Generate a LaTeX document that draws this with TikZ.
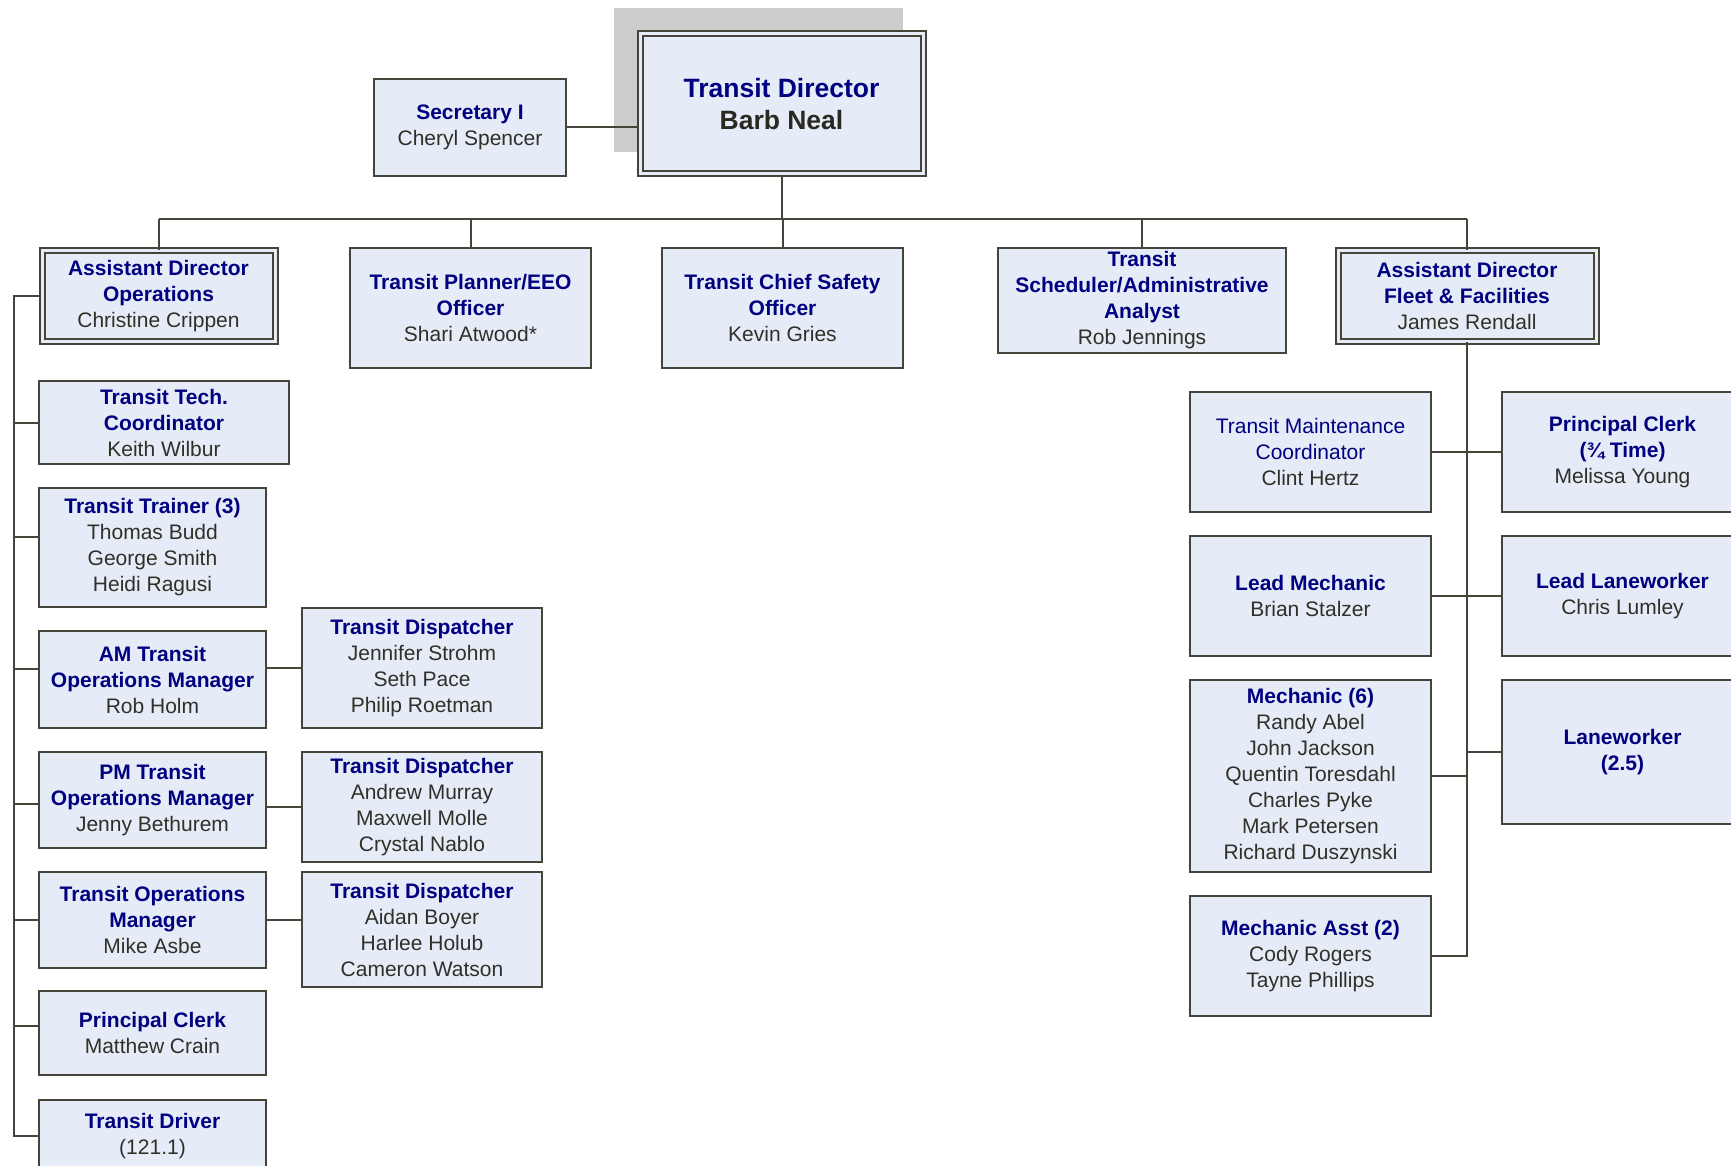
\documentclass[tikz,border=0pt]{standalone}
\usepackage{fontspec}
\setmainfont{Liberation Sans}
\definecolor{boxfill}{RGB}{230,236,247}
\definecolor{bord}{RGB}{70,68,56}
\definecolor{titlec}{RGB}{0,0,128}
\definecolor{namec}{RGB}{48,48,40}
\definecolor{shadowc}{RGB}{204,204,204}
\newcommand\ttl[1]{{\bfseries\color{titlec}#1}}
\begin{document}
\begin{tikzpicture}[x=1pt,y=-1pt,
  box/.style={draw=bord, fill=boxfill, line width=2.5pt, inner sep=0pt, align=center,
    font=\fontsize{21}{26}\selectfont, text=namec},
  dbox/.style={box, line width=2pt, double=boxfill, double distance=3pt},
  conn/.style={draw=bord, line width=2pt}]
\useasboundingbox (0,0) rectangle (1731,1166);
\clip (0,0) rectangle (1731,1166);
\fill[shadowc] (614,8) rectangle (903,152);
% top
\node[dbox, minimum width=283pt, minimum height=140pt, font=\fontsize{26.5}{32}\selectfont] (dir) at (781.5,104)
  {\ttl{Transit Director}\\{\bfseries\color{namec!85!black}Barb Neal}};
\node[box, minimum width=192pt, minimum height=97pt] (sec) at (470,127.5)
  {\ttl{Secretary I}\\Cheryl Spencer};
% second row
\node[dbox, minimum width=233pt, minimum height=90pt] (ado) at (158.5,296)
  {\ttl{Assistant Director}\\\ttl{Operations}\\Christine Crippen};
\node[box, minimum width=241pt, minimum height=120pt] (plan) at (470.5,308)
  {\ttl{Transit Planner/EEO}\\\ttl{Officer}\\Shari Atwood*};
\node[box, minimum width=241pt, minimum height=120pt] (chief) at (782.5,308)
  {\ttl{Transit Chief Safety}\\\ttl{Officer}\\Kevin Gries};
\node[box, minimum width=288pt, minimum height=105pt] (sched) at (1142,300.5)
  {\ttl{Transit}\\\ttl{Scheduler/Administrative}\\\ttl{Analyst}\\Rob Jennings};
\node[dbox, minimum width=258pt, minimum height=90pt] (adff) at (1467,296)
  {\ttl{Assistant Director}\\\ttl{Fleet \& Facilities}\\James Rendall};
% left column
\node[box, minimum width=250pt, minimum height=83pt] (tech) at (164,422.5)
  {\ttl{Transit Tech.}\\\ttl{Coordinator}\\Keith Wilbur};
\node[box, minimum width=227pt, minimum height=119pt] (trainer) at (152.5,547.5)
  {\ttl{Transit Trainer (3)}\\Thomas Budd\\George Smith\\Heidi Ragusi};
\node[box, minimum width=227pt, minimum height=97pt] (am) at (152.5,679.5)
  {\ttl{AM Transit}\\\ttl{Operations Manager}\\Rob Holm};
\node[box, minimum width=227pt, minimum height=96pt] (pm) at (152.5,800)
  {\ttl{PM Transit}\\\ttl{Operations Manager}\\Jenny Bethurem};
\node[box, minimum width=227pt, minimum height=96pt] (ops) at (152.5,920)
  {\ttl{Transit Operations}\\\ttl{Manager}\\Mike Asbe};
\node[box, minimum width=227pt, minimum height=84pt] (pcl) at (152.5,1033)
  {\ttl{Principal Clerk}\\Matthew Crain};
\node[box, minimum width=227pt, minimum height=72pt] (drv) at (152.5,1136)
  {\ttl{Transit Driver}\\(121.1)};
% dispatchers
\node[box, minimum width=240pt, minimum height=120pt] (disp1) at (422,668)
  {\ttl{Transit Dispatcher}\\Jennifer Strohm\\Seth Pace\\Philip Roetman};
\node[box, minimum width=240pt, minimum height=110pt] (disp2) at (422,807)
  {\ttl{Transit Dispatcher}\\Andrew Murray\\Maxwell Molle\\Crystal Nablo};
\node[box, minimum width=240pt, minimum height=115pt] (disp3) at (422,929.5)
  {\ttl{Transit Dispatcher}\\Aidan Boyer\\Harlee Holub\\Cameron Watson};
% right side
\node[box, minimum width=241pt, minimum height=120pt] (maint) at (1310.5,452)
  {{\color{titlec}Transit Maintenance}\\{\color{titlec}Coordinator}\\Clint Hertz};
\node[box, minimum width=241pt, minimum height=120pt] (pclr) at (1622.5,452)
  {\ttl{Principal Clerk}\\\ttl{(¾ Time)}\\Melissa Young};
\node[box, minimum width=241pt, minimum height=120pt] (lmech) at (1310.5,596)
  {\ttl{Lead Mechanic}\\Brian Stalzer};
\node[box, minimum width=241pt, minimum height=120pt] (llane) at (1622.5,596)
  {\ttl{Lead Laneworker}\\Chris Lumley};
\node[box, minimum width=241pt, minimum height=192pt] (mech) at (1310.5,776)
  {\ttl{Mechanic (6)}\\Randy Abel\\John Jackson\\Quentin Toresdahl\\Charles Pyke\\Mark Petersen\\Richard Duszynski};
\node[box, minimum width=241pt, minimum height=144pt] (lane) at (1622.5,752)
  {\ttl{Laneworker}\\\ttl{(2.5)}};
\node[box, minimum width=241pt, minimum height=120pt] (masst) at (1310.5,956)
  {\ttl{Mechanic Asst (2)}\\Cody Rogers\\Tayne Phillips};
% connectors
\coordinate (busL) at (158.5,219);
\coordinate (busR) at (1467,219);
\coordinate (lt) at (14,296);
\draw[conn] (sec.east) -- (sec.east -| dir.west);
\draw[conn] (dir.south) -- (dir.south |- busL);
\draw[conn] (busL) -- (busR);
\draw[conn] (ado.north) -- (ado.north |- busL);
\draw[conn] (plan.north) -- (plan.north |- busL);
\draw[conn] (chief.north) -- (chief.north |- busL);
\draw[conn] (sched.north) -- (sched.north |- busL);
\draw[conn] (adff.north) -- (adff.north |- busL);
% left trunk
\draw[conn] (ado.west) -- (lt) -- (lt |- drv.west) -- (drv.west);
\draw[conn] (tech.west) -- (tech.west -| lt);
\draw[conn] ([yshift=10.5pt]trainer.west) -- ([yshift=10.5pt]trainer.west -| lt);
\draw[conn] ([yshift=10.5pt]am.west) -- ([yshift=10.5pt]am.west -| lt);
\draw[conn] ([yshift=-4pt]pm.west) -- ([yshift=-4pt]pm.west -| lt);
\draw[conn] (ops.west) -- (ops.west -| lt);
\draw[conn] ([yshift=7pt]pcl.west) -- ([yshift=7pt]pcl.west -| lt);
\draw[conn] (disp1.west) -- (disp1.west -| am.east);
\draw[conn] (disp2.west) -- (disp2.west -| pm.east);
\draw[conn] (ops.east) -- (ops.east -| disp3.west);
% right trunk
\draw[conn] (adff.south) -- (adff.south |- masst.east) -- (masst.east);
\draw[conn] (maint.east) -- (pclr.west);
\draw[conn] (lmech.east) -- (llane.west);
\draw[conn] (mech.east) -- (mech.east -| adff.south);
\draw[conn] (lane.west) -- (lane.west -| adff.south);
\end{tikzpicture}
\end{document}
